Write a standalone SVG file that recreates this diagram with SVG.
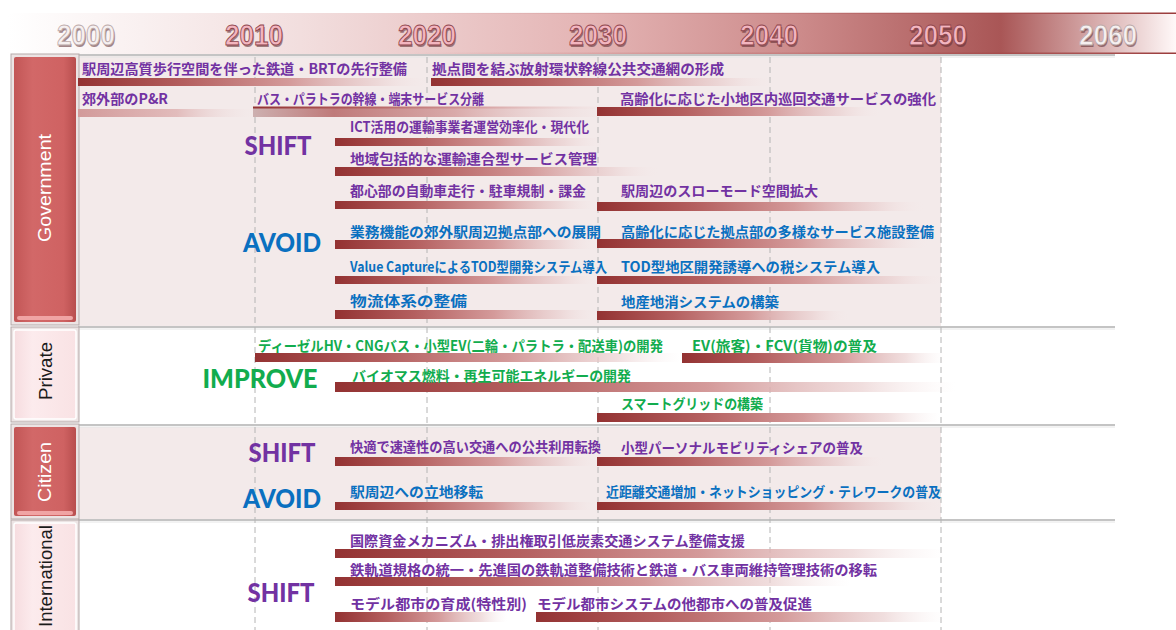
<svg xmlns="http://www.w3.org/2000/svg" width="1176" height="630" viewBox="0 0 1176 630">
<defs>
<style>
.jp{font-family:"Noto Sans CJK JP","Noto Sans CJK SC",sans-serif;font-size:14px;font-weight:bold;}
.pu{fill:#7232a2}.bl{fill:#0a70c0}.gr{fill:#12ac4e}
.big{font-family:Lato,"Open Sans",sans-serif;font-weight:900;font-size:27px;text-anchor:middle;}
.box{font-family:"Liberation Sans",Arial,sans-serif;font-size:18px;text-anchor:middle;}
.yr{font-family:"Liberation Sans",Arial,sans-serif;font-weight:bold;font-size:30px;text-anchor:middle;}
.yrs{fill:#5a2a2e;opacity:0.55;}
.yrf{fill:#f3b5bf;stroke:#8e444c;stroke-width:0.9;}
.yrg{fill:#f6f0f0;stroke:#bcaaaa;stroke-width:0.9;}
.grid{stroke:#b4b4b4;stroke-width:1;stroke-dasharray:6 4;fill:none;}
.sep{stroke:#c4c4c4;stroke-width:2;}
.sep2{stroke:#e6e6e6;stroke-width:1;}
</style>
<linearGradient id="hdr" x1="0" y1="0" x2="1" y2="0">
<stop offset="0" stop-color="#ffffff"/>
<stop offset="0.25" stop-color="#f2dede"/>
<stop offset="0.5" stop-color="#e4b4b4"/>
<stop offset="0.68" stop-color="#cc8a8a"/>
<stop offset="0.85" stop-color="#a95656"/>
<stop offset="0.93" stop-color="#d6aaaa"/>
<stop offset="1" stop-color="#fff8f8"/>
</linearGradient>
<linearGradient id="hdrLine" x1="0" y1="0" x2="1" y2="0">
<stop offset="0" stop-color="#a84848" stop-opacity="0"/>
<stop offset="0.5" stop-color="#b05858" stop-opacity="0.3"/>
<stop offset="1" stop-color="#9a3a3a" stop-opacity="1"/>
</linearGradient>
<linearGradient id="bar" x1="0" y1="0" x2="1" y2="0">
<stop offset="0" stop-color="#933232"/>
<stop offset="0.3" stop-color="#b45f5f"/>
<stop offset="0.6" stop-color="#d49a9a"/>
<stop offset="0.85" stop-color="#ead0d0" stop-opacity="0.7"/>
<stop offset="1" stop-color="#f6eaea" stop-opacity="0"/>
</linearGradient>
<linearGradient id="barLight" x1="0" y1="0" x2="1" y2="0">
<stop offset="0" stop-color="#d29a9a"/>
<stop offset="0.55" stop-color="#e2bcbc"/>
<stop offset="1" stop-color="#f3e9e9" stop-opacity="0"/>
</linearGradient>
<linearGradient id="barMid" x1="0" y1="0" x2="1" y2="0">
<stop offset="0" stop-color="#cdb0b0"/>
<stop offset="0.22" stop-color="#bf7a7a"/>
<stop offset="0.55" stop-color="#d9aaaa"/>
<stop offset="1" stop-color="#f0e0e0" stop-opacity="0"/>
</linearGradient>
<linearGradient id="redBox" x1="0" y1="0" x2="1" y2="0">
<stop offset="0" stop-color="#c25656"/>
<stop offset="0.3" stop-color="#d26868"/>
<stop offset="0.8" stop-color="#cf6262"/>
<stop offset="1" stop-color="#b84e4e"/>
</linearGradient>
<linearGradient id="pinkBox" x1="0" y1="0" x2="1" y2="0">
<stop offset="0" stop-color="#f6dcdf"/>
<stop offset="0.3" stop-color="#fcebed"/>
<stop offset="1" stop-color="#f9e2e4"/>
</linearGradient>
</defs>

<rect x="0" y="0" width="1176" height="630" fill="#ffffff"/>

<g id="background">
<rect x="78" y="56" width="863" height="271" fill="#f3eaea"/>
<rect x="78" y="427" width="863" height="93" fill="#f3eaea"/>
</g>

<g id="header">
<rect x="8" y="13" width="1168" height="41" fill="url(#hdr)"/>
<rect x="400" y="12.5" width="776" height="1.5" fill="url(#hdrLine)"/>
<rect x="400" y="52.5" width="776" height="1.5" fill="url(#hdrLine)"/>
<text class="yr yrs" x="87" y="47" textLength="58" lengthAdjust="spacingAndGlyphs" opacity="0.25">2000</text>
<text class="yr yrg" x="86" y="45" textLength="58" lengthAdjust="spacingAndGlyphs">2000</text>
<text class="yr yrs" x="255" y="47" textLength="58" lengthAdjust="spacingAndGlyphs">2010</text>
<text class="yr yrf" x="254" y="45" textLength="58" lengthAdjust="spacingAndGlyphs">2010</text>
<text class="yr yrs" x="428" y="47" textLength="58" lengthAdjust="spacingAndGlyphs">2020</text>
<text class="yr yrf" x="427" y="45" textLength="58" lengthAdjust="spacingAndGlyphs">2020</text>
<text class="yr yrs" x="599" y="47" textLength="58" lengthAdjust="spacingAndGlyphs">2030</text>
<text class="yr yrf" x="598" y="45" textLength="58" lengthAdjust="spacingAndGlyphs">2030</text>
<text class="yr yrs" x="770" y="47" textLength="58" lengthAdjust="spacingAndGlyphs">2040</text>
<text class="yr yrf" x="769" y="45" textLength="58" lengthAdjust="spacingAndGlyphs">2040</text>
<text class="yr yrs" x="939" y="47" textLength="58" lengthAdjust="spacingAndGlyphs">2050</text>
<text class="yr yrf" x="938" y="45" textLength="58" lengthAdjust="spacingAndGlyphs">2050</text>
<text class="yr yrs" x="1109" y="47" textLength="58" lengthAdjust="spacingAndGlyphs" opacity="0.25">2060</text>
<text class="yr yrg" x="1108" y="45" textLength="58" lengthAdjust="spacingAndGlyphs">2060</text>
</g>

<g id="grid">
<line class="sep" x1="78" y1="55" x2="1115" y2="55"/>
<line class="sep2" x1="78" y1="57" x2="1115" y2="57"/>
<line class="sep" x1="78" y1="327" x2="1115" y2="327"/>
<line class="sep2" x1="78" y1="329" x2="1115" y2="329"/>
<line class="sep" x1="78" y1="425" x2="1115" y2="425"/>
<line class="sep2" x1="78" y1="427" x2="1115" y2="427"/>
<line class="sep" x1="78" y1="520" x2="1115" y2="520"/>
<line class="sep2" x1="78" y1="522" x2="1115" y2="522"/>
<line class="grid" x1="255" y1="57" x2="255" y2="630"/>
<line class="grid" x1="427" y1="57" x2="427" y2="630"/>
<line class="grid" x1="598" y1="57" x2="598" y2="630"/>
<line class="grid" x1="770" y1="57" x2="770" y2="630"/>
<line class="grid" x1="941" y1="57" x2="941" y2="630"/>
</g>

<g id="box-government">
<rect x="11" y="54" width="68" height="271" fill="#ece4e4" stroke="#b5a9a9" stroke-width="1"/>
<rect x="14" y="57" width="62" height="265" rx="2" fill="url(#redBox)"/>
<rect x="17" y="316" width="56" height="4" rx="2" fill="#f0a4a4"/>
<text class="box" transform="translate(51,188) rotate(-90)" fill="#ffffff" textLength="108" lengthAdjust="spacingAndGlyphs">Government</text>
</g>
<g id="box-private">
<rect x="11" y="327" width="68" height="95" fill="#ece4e4" stroke="#b5a9a9" stroke-width="1"/>
<rect x="14" y="330" width="62" height="89" rx="2" fill="url(#pinkBox)" stroke="#ffffff" stroke-width="1.5"/>
<text class="box" transform="translate(52,371) rotate(-90)" fill="#1a1a1a" textLength="58" lengthAdjust="spacingAndGlyphs">Private</text>
</g>
<g id="box-citizen">
<rect x="11" y="424" width="68" height="95" fill="#ece4e4" stroke="#b5a9a9" stroke-width="1"/>
<rect x="14" y="427" width="62" height="89" rx="2" fill="url(#redBox)"/>
<rect x="17" y="511" width="56" height="4" rx="2" fill="#f0a4a4"/>
<text class="box" transform="translate(51,472) rotate(-90)" fill="#ffffff" textLength="60" lengthAdjust="spacingAndGlyphs">Citizen</text>
</g>
<g id="box-international">
<rect x="11" y="520" width="68" height="115" fill="#ece4e4" stroke="#b5a9a9" stroke-width="1"/>
<rect x="14" y="523" width="62" height="112" rx="2" fill="url(#pinkBox)" stroke="#ffffff" stroke-width="1.5"/>
<text class="box" transform="translate(52,525) rotate(-90)" fill="#1a1a1a" style="text-anchor:end" textLength="102" lengthAdjust="spacingAndGlyphs">International</text>
</g>

<g id="labels">
<text id="gov-shift" class="big" x="278" y="155" fill="#7232a2" textLength="67" lengthAdjust="spacingAndGlyphs">SHIFT</text>
<text id="gov-avoid" class="big" x="282" y="252" fill="#0a70c0" textLength="78" lengthAdjust="spacingAndGlyphs">AVOID</text>
<text id="pri-improve" class="big" x="260" y="388" fill="#12ac4e" textLength="115" lengthAdjust="spacingAndGlyphs">IMPROVE</text>
<text id="cit-shift" class="big" x="282" y="462" fill="#7232a2" textLength="67" lengthAdjust="spacingAndGlyphs">SHIFT</text>
<text id="cit-avoid" class="big" x="282" y="508" fill="#0a70c0" textLength="78" lengthAdjust="spacingAndGlyphs">AVOID</text>
<text id="int-shift" class="big" x="281" y="602" fill="#7232a2" textLength="67" lengthAdjust="spacingAndGlyphs">SHIFT</text>
</g>

<g id="g1"><rect x="78" y="78" width="352" height="8" fill="url(#bar)"/><text class="jp pu" x="82" y="74" textLength="325" lengthAdjust="spacingAndGlyphs">駅周辺高質歩行空間を伴った鉄道・BRTの先行整備</text></g>
<g id="g2"><rect x="431" y="78" width="344" height="8" fill="url(#bar)"/><text class="jp pu" x="432" y="74" textLength="292" lengthAdjust="spacingAndGlyphs">拠点間を結ぶ放射環状幹線公共交通網の形成</text></g>
<g id="g3"><rect x="78" y="109" width="180" height="8" fill="url(#barLight)"/><text class="jp pu" x="82" y="104" textLength="86" lengthAdjust="spacingAndGlyphs">郊外部のP&amp;R</text></g>
<g id="g4"><rect x="253" y="108" width="367" height="9" fill="url(#barMid)"/><rect x="253" y="106.5" width="367" height="2" fill="url(#bar)"/><text class="jp pu" x="257" y="104" textLength="227" lengthAdjust="spacingAndGlyphs">バス・パラトラの幹線・端末サービス分離</text></g>
<g id="g5"><rect x="597" y="107" width="285" height="9" fill="url(#bar)"/><text class="jp pu" x="620" y="104" textLength="316" lengthAdjust="spacingAndGlyphs">高齢化に応じた小地区内巡回交通サービスの強化</text></g>
<g id="g6"><rect x="335" y="138" width="270" height="8" fill="url(#bar)"/><text class="jp pu" x="350" y="132" textLength="239" lengthAdjust="spacingAndGlyphs">ICT活用の運輸事業者運営効率化・現代化</text></g>
<g id="g7"><rect x="335" y="167" width="325" height="9" fill="url(#bar)"/><text class="jp pu" x="350" y="164" textLength="247" lengthAdjust="spacingAndGlyphs">地域包括的な運輸連合型サービス管理</text></g>
<g id="g8"><rect x="335" y="201" width="265" height="8" fill="url(#bar)"/><text class="jp pu" x="350" y="196" textLength="236" lengthAdjust="spacingAndGlyphs">都心部の自動車走行・駐車規制・課金</text></g>
<g id="g9"><rect x="597" y="202" width="328" height="9" fill="url(#bar)"/><text class="jp pu" x="621" y="196" textLength="197" lengthAdjust="spacingAndGlyphs">駅周辺のスローモード空間拡大</text></g>
<g id="g10"><rect x="335" y="240" width="265" height="9" fill="url(#bar)"/><text class="jp bl" x="350" y="237" textLength="251" lengthAdjust="spacingAndGlyphs">業務機能の郊外駅周辺拠点部への展開</text></g>
<g id="g11"><rect x="597" y="239" width="333" height="9" fill="url(#bar)"/><text class="jp bl" x="621" y="237" textLength="313" lengthAdjust="spacingAndGlyphs">高齢化に応じた拠点部の多様なサービス施設整備</text></g>
<g id="g12"><rect x="335" y="276" width="265" height="8" fill="url(#bar)"/><text class="jp bl" x="350" y="272" textLength="257" lengthAdjust="spacingAndGlyphs">Value CaptureによるTOD型開発システム導入</text></g>
<g id="g13"><rect x="597" y="276" width="348" height="8" fill="url(#bar)"/><text class="jp bl" x="621" y="272" textLength="259" lengthAdjust="spacingAndGlyphs">TOD型地区開発誘導への税システム導入</text></g>
<g id="g14"><rect x="335" y="310" width="265" height="9" fill="url(#bar)"/><text class="jp bl" x="350" y="306" textLength="117" lengthAdjust="spacingAndGlyphs">物流体系の整備</text></g>
<g id="g15"><rect x="597" y="311" width="253" height="9" fill="url(#bar)"/><text class="jp bl" x="621" y="307" textLength="158" lengthAdjust="spacingAndGlyphs">地産地消システムの構築</text></g>

<g id="p1"><rect x="255" y="353" width="425" height="9" fill="url(#bar)"/><text class="jp gr" x="258" y="351" textLength="405" lengthAdjust="spacingAndGlyphs">ディーゼルHV・CNGバス・小型EV(二輪・パラトラ・配送車)の開発</text></g>
<g id="p2"><rect x="682" y="353" width="263" height="10" fill="url(#bar)"/><text class="jp gr" x="692" y="351" textLength="185" lengthAdjust="spacingAndGlyphs">EV(旅客)・FCV(貨物)の普及</text></g>
<g id="p3"><rect x="335" y="382" width="620" height="10" fill="url(#bar)"/><text class="jp gr" x="352" y="381" textLength="279" lengthAdjust="spacingAndGlyphs">バイオマス燃料・再生可能エネルギーの開発</text></g>
<g id="p4"><rect x="597" y="413" width="343" height="9" fill="url(#bar)"/><text class="jp gr" x="621" y="409" textLength="142" lengthAdjust="spacingAndGlyphs">スマートグリッドの構築</text></g>

<g id="c1"><rect x="335" y="457" width="265" height="9" fill="url(#bar)"/><text class="jp pu" x="350" y="452" textLength="251" lengthAdjust="spacingAndGlyphs">快適で速達性の高い交通への公共利用転換</text></g>
<g id="c2"><rect x="597" y="457" width="288" height="9" fill="url(#bar)"/><text class="jp pu" x="621" y="453" textLength="242" lengthAdjust="spacingAndGlyphs">小型パーソナルモビリティシェアの普及</text></g>
<g id="c3"><rect x="335" y="502" width="265" height="8" fill="url(#bar)"/><text class="jp bl" x="350" y="497" textLength="133" lengthAdjust="spacingAndGlyphs">駅周辺への立地移転</text></g>
<g id="c4"><rect x="597" y="502" width="348" height="8" fill="url(#bar)"/><text class="jp bl" x="606" y="497" textLength="335" lengthAdjust="spacingAndGlyphs">近距離交通増加・ネットショッピング・テレワークの普及</text></g>

<g id="i1"><rect x="335" y="549" width="610" height="9" fill="url(#bar)"/><text class="jp pu" x="350" y="546" textLength="395" lengthAdjust="spacingAndGlyphs">国際資金メカニズム・排出権取引低炭素交通システム整備支援</text></g>
<g id="i2"><rect x="335" y="577" width="515" height="9" fill="url(#bar)"/><text class="jp pu" x="350" y="575" textLength="527" lengthAdjust="spacingAndGlyphs">鉄軌道規格の統一・先進国の鉄軌道整備技術と鉄道・バス車両維持管理技術の移転</text></g>
<g id="i3"><rect x="335" y="612" width="172" height="10" fill="url(#bar)"/><text class="jp pu" x="350" y="609" textLength="177" lengthAdjust="spacingAndGlyphs">モデル都市の育成(特性別)</text></g>
<g id="i4"><rect x="536" y="612" width="409" height="10" fill="url(#bar)"/><text class="jp pu" x="537" y="609" textLength="275" lengthAdjust="spacingAndGlyphs">モデル都市システムの他都市への普及促進</text></g>
</svg>
